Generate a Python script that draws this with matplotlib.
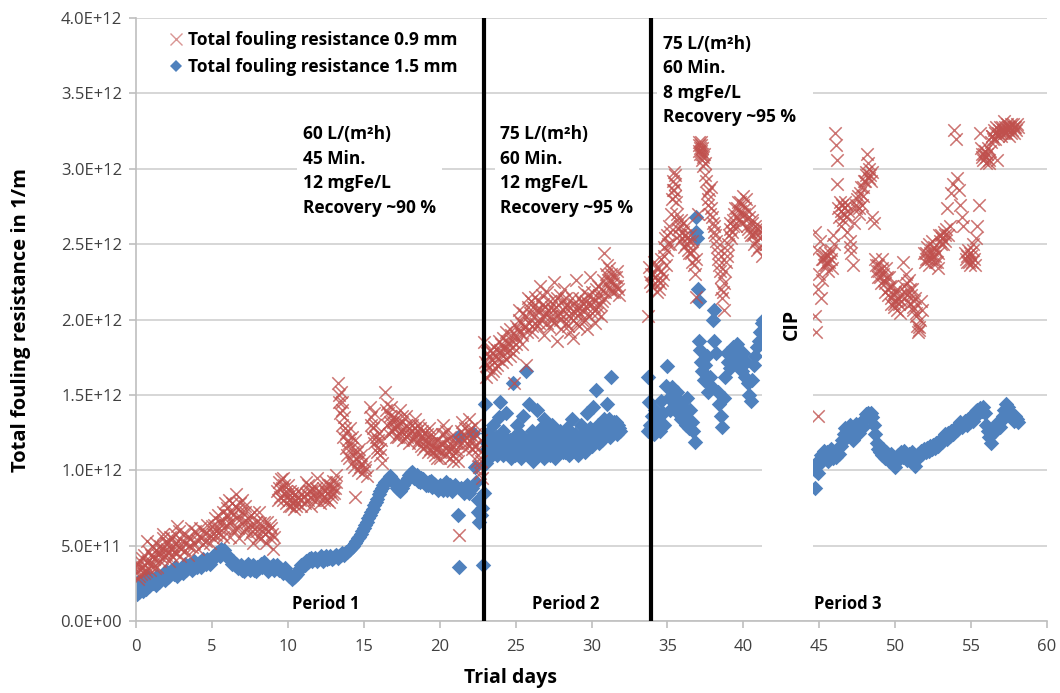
import matplotlib
matplotlib.use("Agg")
import matplotlib.pyplot as plt
from matplotlib.patches import Rectangle
from matplotlib.lines import Line2D
from matplotlib.ticker import FuncFormatter, MultipleLocator

# ---------------- data (day, total fouling resistance in 1E12 1/m) ----------------
red_p1 = [(0.0,0.33),(0.1,0.38),(0.2,0.30),(0.3,0.35),(0.4,0.42),(0.5,0.32),(0.6,0.37),(0.7,0.53),(0.8,0.40),(0.9,0.34),
          (1.0,0.44),(1.1,0.38),(1.2,0.41),(1.3,0.47),(1.4,0.36),(1.5,0.45),(1.6,0.50),(1.7,0.42),(1.8,0.58),(1.9,0.47),
          (2.0,0.44),(2.1,0.52),(2.2,0.40),(2.3,0.48),(2.4,0.55),(2.5,0.46),(2.6,0.51),(2.7,0.63),(2.8,0.49),(2.9,0.43),
          (3.0,0.53),(3.2,0.47),(3.4,0.56),(3.5,0.50),(3.6,0.62),(3.8,0.52),(4.0,0.58),(4.1,0.48),(4.3,0.55),(4.5,0.60),
          (4.6,0.53),(4.8,0.57),(5.0,0.63),(5.1,0.55),(5.2,0.68),(5.3,0.60),(5.5,0.66),(5.6,0.58),(5.7,0.72),(5.8,0.62),
          (5.9,0.70),(6.0,0.75),(6.1,0.65),(6.2,0.56),(6.3,0.78),(6.4,0.70),(6.5,0.62),(6.6,0.84),(6.7,0.74),(6.8,0.55),
          (6.9,0.68),(7.0,0.80),(7.1,0.60),(7.2,0.72),(7.3,0.66),(7.5,0.58),(7.6,0.70),(7.7,0.52),(7.8,0.64),(8.0,0.60),
          (8.1,0.72),(8.2,0.55),(8.4,0.62),(8.5,0.58),(8.6,0.66),(8.8,0.55),(8.9,0.62),(9.0,0.48),(9.1,0.56),
          (9.3,0.86),(9.4,0.92),(9.5,0.82),(9.6,0.88),(9.7,0.95),(9.8,0.84),(9.9,0.78),(10.0,0.90),(10.1,0.80),(10.2,0.76),
          (10.3,0.85),(10.4,0.74),(10.5,0.80),(10.6,0.78),(10.7,0.86),(10.9,0.76),(11.0,0.82),(11.2,0.92),(11.3,0.80),
          (11.4,0.86),(11.5,0.76),(11.6,0.88),(11.8,0.83),(11.9,0.95),(12.0,0.86),(12.1,0.78),(12.3,0.88),(12.4,0.82),
          (12.5,0.92),(12.6,0.85),(12.7,0.79),(12.8,0.90),(12.9,0.84),(13.0,0.93),(13.1,0.88),(13.2,0.97),(14.4,0.82),
          (13.3,1.58),(13.35,1.50),(13.4,1.45),(13.5,1.52),(13.55,1.40),(13.6,1.30),(13.65,1.22),(13.7,1.35),(13.8,1.15),
          (13.85,1.25),(13.9,1.10),(14.0,1.18),(14.1,1.28),(14.2,1.05),(14.3,1.12),(14.4,1.20),(14.5,1.08),(14.6,1.00),
          (14.7,1.14),(14.8,1.04),(14.9,0.98),(15.0,1.06),(15.1,1.00),(15.2,0.96),
          (15.4,1.42),(15.5,1.35),(15.6,1.28),(15.7,1.38),(15.8,1.22),(15.9,1.15),(16.0,1.25),(16.1,1.10),(16.2,1.05),
          (16.4,1.52),(16.5,1.44),(16.6,1.38),(16.7,1.32),(16.8,1.42),(16.9,1.28),(17.0,1.35),(17.1,1.22),(17.2,1.30),
          (17.3,1.25),(17.4,1.40),(17.5,1.32),(17.6,1.20),(17.7,1.28),(17.8,1.36),(17.9,1.24),(18.0,1.18),
          (18.2,1.30),(18.3,1.22),(18.4,1.34),(18.5,1.26),(18.6,1.18),(18.7,1.28),(18.8,1.22),(18.9,1.14),(19.0,1.25),
          (19.1,1.20),(19.2,1.12),(19.3,1.28),(19.4,1.18),(19.5,1.22),(19.6,1.15),(19.7,1.10),(19.8,1.20),(19.9,1.14),
          (20.0,1.08),(20.1,1.18),(20.2,1.30),(20.3,1.24),(20.4,1.15),(20.5,1.20),(20.6,1.12),(20.7,1.08),(20.8,1.16),
          (20.9,1.10),(21.0,1.22),(21.1,1.14),(21.2,1.06),(21.3,0.57),(21.4,1.26),(21.5,1.32),(21.6,1.20),(21.7,1.28),
          (21.8,1.18),(21.9,1.34),(22.0,1.24),(22.1,1.14),(22.2,1.22),(22.3,1.30),(22.4,1.16),(22.5,1.10),(22.6,1.02),
          (22.7,1.20),(22.8,0.95)]

red_p1_b = [(0.05,0.36),(0.15,0.28),(0.25,0.40),(0.35,0.31),(0.45,0.36),(0.55,0.44),(0.65,0.33),(0.75,0.39),(0.85,0.46),
            (0.95,0.37),(1.05,0.50),(1.15,0.43),(1.25,0.35),(1.35,0.52),(1.45,0.44),(1.55,0.40),(1.65,0.47),(1.75,0.55),
            (1.85,0.43),(1.95,0.52),(2.05,0.48),(2.15,0.45),(2.25,0.56),(2.35,0.43),(2.45,0.50),(2.55,0.58),(2.65,0.45),
            (2.75,0.53),(2.85,0.60),(2.95,0.48),(3.1,0.58),(3.3,0.52),(3.45,0.44),(3.55,0.55),(3.7,0.49),(3.9,0.60),
            (4.05,0.54),(4.2,0.62),(4.4,0.51),(4.55,0.58),(4.7,0.64),(4.9,0.52),(5.05,0.58),(5.15,0.64),(5.25,0.57),
            (5.4,0.70),(5.45,0.62),(5.65,0.66),(5.75,0.56),(5.85,0.78),(5.95,0.64),(6.05,0.70),(6.15,0.80),(6.25,0.66),
            (6.35,0.72),(6.45,0.60),(6.55,0.76),(6.65,0.68),(6.75,0.62),(6.85,0.78),(6.95,0.72),(7.05,0.66),(7.15,0.76),
            (7.25,0.62),(7.4,0.68),(7.55,0.64),(7.65,0.60),(7.75,0.72),(7.9,0.66),(8.05,0.56),(8.15,0.65),(8.3,0.60),
            (8.45,0.66),(8.55,0.52),(8.7,0.60),(8.85,0.64),(8.95,0.58),
            (9.35,0.80),(9.45,0.88),(9.55,0.94),(9.65,0.80),(9.75,0.90),(9.85,0.86),(9.95,0.82),(10.05,0.76),(10.15,0.86),
            (10.25,0.80),(10.35,0.78),(10.45,0.84),(10.55,0.76),(10.65,0.82),(10.8,0.80),(10.95,0.84),(11.1,0.78),
            (11.25,0.84),(11.35,0.90),(11.45,0.82),(11.55,0.86),(11.7,0.80),(11.85,0.88),(12.05,0.82),(12.2,0.85),
            (12.35,0.80),(12.45,0.86),(12.55,0.80),(12.65,0.90),(12.75,0.86),(12.85,0.82),(12.95,0.88),(13.05,0.85),
            (13.15,0.92),
            (13.45,1.38),(13.6,1.45),(13.75,1.28),(13.95,1.20),(14.05,1.08),(14.15,1.15),(14.25,1.22),(14.35,1.02),
            (14.55,1.12),(14.65,1.06),(14.75,1.02),(14.85,1.10),(15.05,1.02),(15.45,1.30),(15.55,1.22),(15.65,1.18),
            (15.75,1.30),(15.85,1.12),(15.95,1.20),(16.05,1.14),(16.15,1.20),(16.45,1.40),(16.55,1.30),(16.65,1.24),
            (16.75,1.36),(16.85,1.26),(16.95,1.32),(17.05,1.28),(17.15,1.34),(17.25,1.22),(17.35,1.30),(17.45,1.26),
            (17.55,1.36),(17.65,1.24),(17.75,1.30),(17.85,1.22),(17.95,1.28),(18.1,1.26),(18.25,1.20),(18.35,1.28),
            (18.45,1.24),(18.55,1.30),(18.65,1.20),(18.75,1.16),(18.85,1.26),(18.95,1.20),(19.05,1.16),(19.15,1.24),
            (19.25,1.18),(19.35,1.14),(19.45,1.24),(19.55,1.12),(19.65,1.18),(19.75,1.14),(19.85,1.08),(19.95,1.16),
            (20.05,1.12),(20.15,1.24),(20.25,1.18),(20.35,1.10),(20.45,1.26),(20.55,1.16),(20.65,1.22),(20.75,1.14),
            (20.85,1.06),(20.95,1.18),(21.05,1.12),(21.15,1.18),(21.45,1.18),(21.55,1.24),(21.65,1.14),(21.75,1.22),
            (21.85,1.26),(21.95,1.16),(22.05,1.28),(22.15,1.20),(22.25,1.16),(22.35,1.24),(22.45,1.06),(22.55,1.14),
            (22.65,0.98),(22.75,1.06)]

red_p2 = [(22.9,1.85),(23.0,1.72),(23.05,1.62),(23.1,1.78),(23.2,1.68),(23.3,1.80),(23.4,1.74),(23.5,1.66),(23.6,1.82),
          (23.7,1.76),(23.8,1.70),(23.9,1.86),(24.0,1.78),(24.1,1.72),(24.2,1.88),(24.3,1.80),(24.4,1.92),(24.5,1.84),
          (24.6,1.76),(24.7,1.90),(24.8,1.82),(24.9,1.58),(25.0,1.96),(25.1,1.88),(25.2,2.00),(25.3,1.92),(25.4,1.84),
          (25.5,2.04),(25.6,1.95),(25.7,1.70),(25.8,2.08),(25.9,1.98),(26.0,2.12),(26.1,1.92),(26.2,2.02),(26.3,2.15),
          (26.4,1.96),(26.5,2.06),(26.6,2.22),(26.7,2.00),(26.8,2.10),(26.9,1.90),(27.0,2.04),(27.1,2.18),(27.2,1.95),
          (27.3,2.08),(27.4,2.00),(27.5,2.25),(27.6,2.12),(27.7,1.86),(27.8,2.02),(27.9,2.16),(28.0,1.94),(28.1,2.06),
          (28.2,2.20),(28.3,1.98),(28.4,2.10),(28.5,2.02),(28.6,1.92),(28.7,2.14),(28.8,1.88),(28.9,2.04),(29.0,2.26),
          (29.1,2.08),(29.2,1.96),(29.3,2.12),(29.4,2.00),(29.5,2.18),(29.6,2.06),(29.7,1.94),(29.8,2.10),(29.9,2.28),
          (30.0,2.04),(30.1,2.14),(30.2,1.98),(30.3,2.20),(30.4,2.08),(30.5,2.16),(30.6,2.02),(30.7,2.12),(30.8,2.44),
          (30.9,2.18),(31.0,2.36),(31.1,2.26),(31.2,2.20),(31.3,2.30),(31.4,2.24),(31.5,2.18),(31.6,2.28),(31.7,2.22),
          (31.8,2.16),(33.7,2.02),(33.8,2.35),(33.85,2.25),
          (33.95,2.30),(34.0,2.22),(34.1,2.38),(34.2,2.28),(34.3,2.18),(34.4,2.34),(34.5,2.24),(34.6,2.40),(34.7,2.30),
          (34.8,2.48),(34.9,2.36),(35.0,2.56),(35.1,2.62),(35.2,2.50),(35.3,2.80),(35.4,2.92),(35.45,2.86),(35.5,2.96),
          (35.55,2.78),(35.6,2.70),(35.7,2.60),(35.8,2.52),(35.9,2.66),(36.0,2.58),(36.1,2.48),(36.2,2.62),(36.3,2.54),
          (36.4,2.44),(36.5,2.56),(36.6,2.38),(36.7,2.46),(36.8,2.30),(36.85,2.15),(36.9,2.40),(37.0,2.70),(37.05,3.12),
          (37.1,3.18),(37.15,3.10),(37.2,3.16),(37.25,3.06),(37.3,3.14),(37.35,3.02),(37.4,3.10),(37.5,2.96),(37.6,2.84),
          (37.7,2.76),(37.8,2.70),(37.9,2.88),(38.0,2.64),(38.1,2.58),(38.2,2.52),(38.3,2.44),(38.4,2.36),(38.5,2.28),
          (38.55,2.20),(38.6,2.14),(38.7,2.24),(38.75,2.06),(38.8,2.32),(38.9,2.42),(39.0,2.50),(39.1,2.60),(39.2,2.54),
          (39.3,2.66),(39.4,2.70),(39.5,2.62),(39.6,2.74),(39.7,2.66),(39.8,2.78),(39.9,2.70),(40.0,2.82),(40.1,2.74),
          (40.2,2.66),(40.3,2.60),(40.4,2.72),(40.5,2.56),(40.6,2.64),(40.7,2.50),(40.8,2.58),(40.9,2.46),(41.0,2.62),
          (41.1,2.54),(41.2,2.42),(41.3,2.60),(41.5,2.50)]

red_p2_b = [(23.15,1.70),(23.25,1.76),(23.35,1.64),(23.45,1.78),(23.55,1.72),(23.65,1.68),(23.75,1.80),(23.85,1.74),
            (23.95,1.80),(24.05,1.84),(24.15,1.76),(24.25,1.82),(24.35,1.74),(24.45,1.86),(24.55,1.80),(24.65,1.94),
            (24.75,1.86),(24.85,1.78),(24.95,1.90),(25.05,1.84),(25.15,1.94),(25.25,2.06),(25.35,1.98),(25.45,1.90),
            (25.55,1.96),(25.65,2.02),(25.75,1.92),(25.85,2.14),(25.95,2.04),(26.05,1.96),(26.15,2.08),(26.25,1.98),
            (26.35,2.06),(26.45,2.12),(26.55,1.98),(26.65,2.06),(26.75,2.16),(26.85,2.02),(26.95,2.08),(27.05,1.98),
            (27.15,2.06),(27.25,2.12),(27.35,2.02),(27.45,2.06),(27.55,1.98),(27.65,2.08),(27.75,2.14),(27.85,2.04),
            (27.95,2.00),(28.05,2.12),(28.15,2.02),(28.25,2.08),(28.35,2.14),(28.45,1.96),(28.55,2.08),(28.65,2.04),
            (28.75,2.00),(28.85,2.10),(28.95,1.98),(29.05,2.06),(29.15,2.14),(29.25,2.04),(29.35,2.06),(29.45,2.10),
            (29.55,2.00),(29.65,2.12),(29.75,2.16),(29.85,2.02),(29.95,2.10),(30.05,2.18),(30.15,2.08),(30.25,2.12),
            (30.35,2.04),(30.45,2.22),(30.55,2.10),(30.65,2.20),(30.75,2.26),(30.85,2.14),(30.95,2.30),(31.05,2.22),
            (31.15,2.34),(31.25,2.26),(31.35,2.18),(31.45,2.28),(31.55,2.22),(31.65,2.32),(31.75,2.20),
            (34.05,2.30),(34.15,2.24),(34.25,2.34),(34.35,2.26),(34.45,2.20),(34.55,2.32),(34.65,2.26),(34.75,2.42),
            (34.85,2.54),(34.95,2.46),(35.05,2.50),(35.15,2.58),(35.25,2.70),(35.35,2.86),(35.42,2.98),(35.48,2.82),
            (35.52,2.90),(35.65,2.66),(35.75,2.56),(35.85,2.62),(35.95,2.54),(36.05,2.64),(36.15,2.56),(36.25,2.50),
            (36.35,2.46),(36.45,2.52),(36.55,2.44),(36.65,2.52),(36.75,2.36),(37.08,3.16),(37.12,3.14),(37.18,3.12),
            (37.22,3.18),(37.28,3.10),(37.32,3.08),(37.45,3.04),(37.55,2.92),(37.65,2.80),(37.75,2.86),(37.85,2.74),
            (37.95,2.68),(38.05,2.62),(38.15,2.56),(38.25,2.48),(38.35,2.40),(38.45,2.32),(38.65,2.18),(38.85,2.38),
            (38.95,2.46),(39.05,2.56),(39.15,2.64),(39.25,2.58),(39.35,2.62),(39.45,2.74),(39.55,2.68),(39.65,2.78),
            (39.75,2.72),(39.85,2.64),(39.95,2.76),(40.05,2.70),(40.15,2.80),(40.25,2.62),(40.35,2.68),(40.45,2.58),
            (40.55,2.66),(40.65,2.56),(40.75,2.62),(40.85,2.52),(40.95,2.58),(41.05,2.48),(41.15,2.58)]

red_p3 = [(44.7,2.58),(44.75,2.02),(44.8,1.92),(44.85,2.46),(44.9,2.20),(44.95,1.36),(45.0,2.30),(45.05,2.52),(45.1,2.14),
          (45.15,2.40),(45.2,2.26),(45.3,2.36),(45.4,2.42),(45.5,2.38),(45.6,2.32),(45.7,2.44),(45.8,2.40),(45.9,2.56),
          (46.0,2.50),(46.05,3.24),(46.1,3.16),(46.15,3.06),(46.2,2.90),(46.3,2.68),(46.4,2.62),(46.5,2.76),(46.6,2.70),
          (46.7,2.78),(46.8,2.58),(46.9,2.72),(47.0,2.52),(47.1,2.44),(47.2,2.36),(47.3,2.64),(47.4,2.74),(47.5,2.80),
          (47.6,2.70),(47.7,2.84),(47.8,2.76),(47.9,2.88),(48.0,2.92),(48.1,2.96),(48.15,3.10),(48.2,3.04),(48.25,2.94),
          (48.3,3.00),(48.4,2.92),(48.5,2.68),(48.6,2.64),(48.7,2.40),(48.8,2.32),(48.9,2.36),(49.0,2.28),(49.1,2.40),
          (49.2,2.30),(49.3,2.24),(49.4,2.34),(49.5,2.20),(49.6,2.28),(49.7,2.14),(49.8,2.22),(49.9,2.10),(50.0,2.18),
          (50.1,2.06),(50.2,2.14),(50.3,2.04),(50.4,2.12),(50.5,2.38),(50.6,2.22),(50.7,2.30),(50.8,2.16),(50.9,2.26),
          (51.0,2.10),(51.1,2.20),(51.2,2.06),(51.3,2.14),(51.4,2.02),(51.5,1.92),(51.6,1.95),(51.7,2.12),(51.8,2.06),
          (51.9,2.44),(52.0,2.40),(52.1,2.48),(52.2,2.36),(52.3,2.44),(52.4,2.52),(52.5,2.42),(52.6,2.38),(52.7,2.46),
          (52.8,2.34),(52.9,2.56),(53.0,2.50),(53.1,2.54),(53.2,2.58),(53.3,2.52),(53.4,2.74),(53.5,2.56),(53.6,2.62),
          (53.7,2.84),(53.8,2.90),(53.9,3.26),(54.0,3.20),(54.1,2.94),(54.2,2.86),(54.3,2.76),(54.4,2.68),(54.5,2.62),
          (54.6,2.44),(54.7,2.38),(54.8,2.46),(54.9,2.36),(55.0,2.42),(55.1,2.50),(55.2,2.40),(55.3,2.54),(55.4,2.62),
          (55.5,2.76),(55.6,3.24),(55.7,3.10),(55.8,3.06),(55.9,3.12),(56.0,3.08),(56.1,3.14),(56.2,3.04),(56.3,3.18),
          (56.4,3.22),(56.5,3.26),(56.6,3.20),(56.7,3.06),(56.8,3.24),(56.9,3.28),(57.0,3.22),(57.1,3.26),(57.2,3.32),
          (57.3,3.24),(57.4,3.28),(57.5,3.22),(57.6,3.30),(57.7,3.26),(57.8,3.24),(57.9,3.28)]

red_p3_b = [(45.25,2.40),(45.35,2.44),(45.45,2.36),(45.55,2.42),(45.65,2.38),(45.75,2.46),(45.85,2.34),(46.25,2.74),
            (46.35,2.78),(46.45,2.72),(46.55,2.66),(46.65,2.74),(46.75,2.68),(46.85,2.76),(47.05,2.48),(47.45,2.76),
            (47.55,2.82),(47.65,2.74),(47.75,2.88),(47.85,2.82),(47.95,2.92),(48.05,2.98),(48.35,2.96),(48.45,2.98),
            (48.75,2.36),(48.85,2.28),(48.95,2.32),(49.05,2.24),(49.15,2.34),(49.25,2.26),(49.35,2.18),(49.45,2.28),
            (49.55,2.16),(49.65,2.22),(49.75,2.10),(49.85,2.16),(49.95,2.08),(50.05,2.12),(50.15,2.20),(50.25,2.10),
            (50.35,2.16),(50.65,2.18),(50.75,2.24),(50.85,2.12),(50.95,2.20),(51.05,2.16),(51.15,2.08),(51.25,2.12),
            (51.35,2.04),(51.45,1.96),(51.55,1.93),(51.65,2.00),(51.95,2.38),(52.05,2.44),(52.15,2.40),(52.25,2.50),
            (52.35,2.40),(52.45,2.46),(52.55,2.48),(52.65,2.42),(52.75,2.38),(52.85,2.44),(52.95,2.52),(53.05,2.56),
            (53.15,2.50),(53.25,2.56),(53.35,2.60),(54.65,2.40),(54.75,2.42),(54.85,2.38),(54.95,2.44),(55.05,2.38),
            (55.15,2.46),(55.25,2.36),(55.65,3.14),(55.75,3.08),(55.85,3.10),(55.95,3.04),(56.05,3.10),(56.15,3.06),
            (56.25,3.12),(56.35,3.22),(56.45,3.20),(56.55,3.24),(56.65,3.28),(56.75,3.22),(56.85,3.26),(56.95,3.24),
            (57.05,3.28),(57.15,3.24),(57.25,3.28),(57.35,3.30),(57.45,3.26),(57.55,3.28),(57.65,3.24),(57.75,3.30),
            (57.85,3.28),(57.95,3.26),(58.05,3.30),(58.1,3.28)]

blue_p1 = [(0.0,0.22),(0.1,0.26),(0.2,0.19),(0.3,0.24),(0.4,0.21),(0.5,0.27),(0.6,0.23),(0.7,0.26),(0.8,0.29),(0.9,0.25),
           (1.0,0.28),(1.2,0.27),(1.4,0.30),(1.6,0.28),(1.8,0.31),(2.0,0.33),(2.2,0.30),(2.4,0.34),(2.6,0.36),(2.8,0.33),
           (3.0,0.35),(3.2,0.38),(3.4,0.35),(3.6,0.37),(3.8,0.40),(4.0,0.36),(4.2,0.39),(4.4,0.41),(4.6,0.38),(4.8,0.40),
           (5.0,0.42),(5.2,0.44),(5.4,0.46),(5.6,0.48),(5.8,0.47),(6.0,0.44),(6.2,0.41),(6.4,0.40),(6.6,0.38),(6.8,0.36),
           (7.0,0.34),(7.2,0.36),(7.4,0.38),(7.6,0.36),(7.8,0.34),(8.0,0.36),(8.2,0.38),(8.4,0.39),(8.6,0.36),(8.8,0.35),
           (9.0,0.37),(9.2,0.36),(9.4,0.34),(9.6,0.33),(9.8,0.35),(10.0,0.32),(10.2,0.30),(10.4,0.29),(10.6,0.31),
           (10.8,0.35),(11.0,0.38),(11.2,0.40),(11.4,0.41),(11.6,0.40),(11.8,0.42),(12.0,0.41),(12.2,0.43),(12.4,0.42),
           (12.6,0.41),(12.8,0.43),(13.0,0.42),(13.2,0.44),(13.4,0.43),(13.6,0.45),(13.8,0.46),(14.0,0.47),(14.2,0.49),
           (14.4,0.52),(14.6,0.55),(14.8,0.58),(15.0,0.62),(15.2,0.66),(15.4,0.70),(15.6,0.74),(15.8,0.79),(16.0,0.84),
           (16.2,0.88),(16.4,0.92),(16.6,0.94),(16.8,0.95),(17.0,0.93),(17.2,0.88),(17.4,0.86),(17.6,0.90),(17.8,0.93),
           (18.0,0.97),(18.2,0.99),(18.4,0.96),(18.6,0.93),(18.8,0.95),(19.0,0.92),(19.2,0.90),(19.4,0.93),(19.6,0.91),
           (19.8,0.88),(20.0,0.90),(20.2,0.87),(20.4,0.92),(20.6,0.89),(20.8,0.86),(21.0,0.90),(21.2,0.70),(21.25,0.36),
           (21.3,1.23),(21.4,0.88),(21.6,0.85),(21.8,0.90),(22.0,0.87),(22.2,1.25),(22.3,1.02),(22.4,0.92),(22.5,0.80),
           (22.55,0.72),(22.6,0.66),(22.7,0.70),(22.8,0.75),(22.85,0.37),(22.9,0.85)]

blue_p1_b = [(0.05,0.18),(0.25,0.23),(0.45,0.20),(0.65,0.21),(0.85,0.23),(1.1,0.25),(1.3,0.24),(1.5,0.26),(1.7,0.30),
             (1.9,0.27),(2.1,0.29),(2.3,0.33),(2.5,0.31),(2.7,0.30),(2.9,0.34),(3.1,0.32),(3.3,0.34),(3.5,0.37),(3.7,0.34),
             (3.9,0.36),(4.1,0.38),(4.3,0.36),(4.5,0.39),(4.7,0.41),(4.9,0.38),(5.1,0.41),(5.3,0.45),(5.5,0.43),(5.7,0.45),
             (5.9,0.43),(6.1,0.42),(6.3,0.38),(6.5,0.37),(6.7,0.35),(6.9,0.37),(7.1,0.33),(7.3,0.35),(7.5,0.34),(7.7,0.37),
             (7.9,0.33),(8.1,0.35),(8.3,0.36),(8.5,0.37),(8.7,0.33),(8.9,0.36),(9.1,0.34),(9.3,0.37),(9.5,0.35),(9.7,0.32),
             (9.9,0.33),(10.1,0.30),(10.3,0.28),(10.5,0.30),(10.7,0.33),(10.9,0.37),(11.1,0.37),(11.3,0.39),(11.5,0.42),
             (11.7,0.41),(11.9,0.40),(12.1,0.42),(12.3,0.40),(12.5,0.43),(12.7,0.42),(12.9,0.41),(13.1,0.43),(13.3,0.42),
             (13.5,0.44),(13.7,0.44),(13.9,0.46),(14.1,0.48),(14.3,0.50),(14.5,0.53),(14.7,0.56),(14.9,0.60),(15.1,0.64),
             (15.3,0.68),(15.5,0.72),(15.7,0.77),(15.9,0.81),(16.1,0.86),(16.3,0.90),(16.5,0.93),(16.7,0.96),(16.9,0.92),
             (17.1,0.90),(17.3,0.87),(17.5,0.88),(17.7,0.92),(17.9,0.95),(18.1,0.98),(18.3,0.95),(18.5,0.97),(18.7,0.92),
             (18.9,0.94),(19.1,0.90),(19.3,0.92),(19.5,0.89),(19.7,0.90),(19.9,0.87),(20.1,0.89),(20.3,0.90),(20.5,0.87),
             (20.7,0.90),(20.9,0.88),(21.5,0.87),(21.7,0.88),(21.9,0.85),(22.1,0.88)]

blue_p2 = [(23.0,1.44),(23.05,1.05),(23.1,1.18),(23.2,1.25),(23.3,1.12),(23.4,1.20),(23.5,1.30),(23.6,1.15),(23.7,1.22),
           (23.8,1.10),(23.9,1.35),(24.0,1.45),(24.1,1.18),(24.2,1.26),(24.3,1.12),(24.4,1.38),(24.5,1.20),(24.6,1.14),
           (24.7,1.08),(24.8,1.58),(24.9,1.22),(25.0,1.16),(25.1,1.30),(25.2,1.10),(25.3,1.24),(25.4,1.18),(25.5,1.36),
           (25.6,1.12),(25.7,1.66),(25.8,1.20),(25.9,1.44),(26.0,1.14),(26.1,1.26),(26.2,1.18),(26.3,1.08),(26.4,1.40),
           (26.5,1.22),(26.6,1.12),(26.7,1.28),(26.8,1.16),(26.9,1.34),(27.0,1.20),(27.1,1.10),(27.2,1.24),(27.3,1.15),
           (27.4,1.30),(27.5,1.18),(27.6,1.08),(27.7,1.22),(27.8,1.14),(27.9,1.26),(28.0,1.19),(28.1,1.12),(28.2,1.24),
           (28.3,1.16),(28.4,1.28),(28.5,1.10),(28.6,1.20),(28.7,1.34),(28.8,1.14),(28.9,1.24),(29.0,1.17),(29.1,1.10),
           (29.2,1.22),(29.3,1.30),(29.4,1.16),(29.5,1.24),(29.6,1.12),(29.7,1.38),(29.8,1.20),(29.9,1.28),(30.0,1.16),
           (30.1,1.42),(30.2,1.22),(30.3,1.53),(30.4,1.30),(30.5,1.18),(30.6,1.26),(30.7,1.20),(30.8,1.34),(30.9,1.24),
           (31.0,1.44),(31.1,1.28),(31.2,1.22),(31.3,1.62),(31.4,1.30),(31.5,1.26),(31.6,1.32),(31.7,1.24),(31.8,1.28),
           (31.9,1.26),(33.7,1.26),(33.75,1.62),(33.8,1.45),(33.85,1.30),
           (33.95,1.28),(34.0,1.36),(34.1,1.24),(34.2,1.40),(34.3,1.30),(34.4,1.33),(34.5,1.26),(34.6,1.46),(34.7,1.38),
           (34.8,1.30),(34.9,1.56),(35.0,1.69),(35.1,1.48),(35.2,1.40),(35.3,1.55),(35.4,1.50),(35.5,1.44),(35.6,1.52),
           (35.7,1.38),(35.8,1.46),(35.9,1.34),(36.0,1.42),(36.1,1.36),(36.2,1.30),(36.3,1.48),(36.4,1.28),(36.5,1.40),
           (36.6,1.32),(36.7,1.26),(36.8,1.19),(36.85,2.68),(36.9,2.58),(36.95,2.54),(37.0,2.20),(37.05,2.12),(37.1,1.86),
           (37.15,1.80),(37.2,1.72),(37.3,1.66),(37.4,1.60),(37.5,1.70),(37.6,1.76),(37.7,1.52),(37.8,1.62),(37.9,1.56),
           (38.0,2.00),(38.05,2.06),(38.1,1.86),(38.2,1.78),(38.3,1.52),(38.4,1.44),(38.5,1.36),(38.6,1.29),(38.7,1.48),
           (38.8,1.62),(38.9,1.78),(39.0,1.72),(39.1,1.68),(39.2,1.76),(39.3,1.82),(39.4,1.74),(39.5,1.80),(39.6,1.84),
           (39.7,1.70),(39.8,1.76),(39.9,1.66),(40.0,1.78),(40.1,1.62),(40.2,1.72),(40.3,1.58),(40.4,1.50),(40.5,1.46),
           (40.6,1.60),(40.7,1.70),(40.8,1.76),(40.9,1.82),(41.0,1.86),(41.1,1.92),(41.2,1.98),(41.3,2.00)]

blue_p2_b = [(23.15,1.14),(23.25,1.20),(23.35,1.16),(23.45,1.10),(23.55,1.18),(23.65,1.12),(23.75,1.16),(23.85,1.20),
             (23.95,1.12),(24.05,1.16),(24.15,1.10),(24.25,1.15),(24.35,1.20),(24.45,1.12),(24.55,1.16),(24.65,1.20),
             (24.75,1.12),(24.85,1.17),(24.95,1.10),(25.05,1.14),(25.15,1.20),(25.25,1.13),(25.35,1.08),(25.45,1.15),
             (25.55,1.19),(25.65,1.12),(25.75,1.16),(25.85,1.10),(25.95,1.18),(26.05,1.12),(26.15,1.06),(26.25,1.14),
             (26.35,1.18),(26.45,1.10),(26.55,1.16),(26.65,1.20),(26.75,1.12),(26.85,1.08),(26.95,1.16),(27.05,1.12),
             (27.15,1.18),(27.25,1.10),(27.35,1.14),(27.45,1.20),(27.55,1.12),(27.65,1.16),(27.75,1.10),(27.85,1.18),
             (27.95,1.14),(28.05,1.16),(28.15,1.20),(28.25,1.12),(28.35,1.18),(28.45,1.14),(28.55,1.16),(28.65,1.12),
             (28.75,1.18),(28.85,1.20),(28.95,1.14),(29.05,1.20),(29.15,1.16),(29.25,1.14),(29.35,1.20),(29.45,1.18),
             (29.55,1.22),(29.65,1.16),(29.75,1.20),(29.85,1.24),(29.95,1.18),(30.05,1.22),(30.15,1.26),(30.25,1.20),
             (30.35,1.24),(30.45,1.28),(30.55,1.22),(30.65,1.30),(30.75,1.26),(30.85,1.22),(30.95,1.30),(31.05,1.26),
             (31.15,1.34),(31.25,1.28),(31.35,1.24),(31.45,1.32),(31.55,1.28),(31.65,1.26),(31.75,1.30)]

blue_p3 = [(44.7,1.00),(44.75,0.88),(44.8,1.05),(44.9,0.98),(45.0,1.04),(45.1,1.10),(45.2,1.06),(45.3,1.13),(45.4,1.08),
           (45.5,1.12),(45.6,1.06),(45.7,1.10),(45.8,1.14),(45.9,1.08),(46.0,1.12),(46.1,1.09),(46.2,1.14),(46.3,1.11),
           (46.4,1.16),(46.5,1.20),(46.6,1.24),(46.7,1.28),(46.8,1.22),(46.9,1.26),(47.0,1.30),(47.1,1.24),(47.2,1.20),
           (47.3,1.27),(47.4,1.31),(47.5,1.28),(47.6,1.25),(47.7,1.30),(47.8,1.33),(47.9,1.29),(48.0,1.34),(48.1,1.37),
           (48.2,1.38),(48.3,1.36),(48.4,1.38),(48.5,1.35),(48.6,1.30),(48.7,1.24),(48.8,1.18),(48.9,1.14),(49.0,1.12),
           (49.1,1.10),(49.2,1.14),(49.3,1.08),(49.4,1.12),(49.5,1.10),(49.6,1.06),(49.7,1.11),(49.8,1.08),(49.9,1.05),
           (50.0,1.02),(50.1,1.06),(50.2,1.10),(50.3,1.08),(50.4,1.12),(50.5,1.09),(50.6,1.13),(50.7,1.10),(50.8,1.07),
           (50.9,1.11),(51.0,1.08),(51.1,1.12),(51.2,1.06),(51.3,1.03),(51.4,1.08),(51.5,1.11),(51.6,1.09),(51.7,1.13),
           (51.8,1.11),(51.9,1.14),(52.0,1.12),(52.1,1.15),(52.2,1.13),(52.3,1.16),(52.4,1.14),(52.5,1.17),(52.6,1.15),
           (52.7,1.18),(52.8,1.16),(52.9,1.19),(53.0,1.21),(53.1,1.19),(53.2,1.22),(53.3,1.24),(53.4,1.21),(53.5,1.25),
           (53.6,1.23),(53.7,1.26),(53.8,1.24),(53.9,1.27),(54.0,1.29),(54.1,1.27),(54.2,1.30),(54.3,1.32),(54.4,1.29),
           (54.5,1.31),(54.6,1.33),(54.7,1.30),(54.8,1.34),(54.9,1.32),(55.0,1.35),(55.1,1.33),(55.2,1.37),(55.3,1.39),
           (55.4,1.40),(55.5,1.38),(55.6,1.41),(55.7,1.39),(55.8,1.42),(55.9,1.38),(56.0,1.30),(56.1,1.26),(56.2,1.22),
           (56.3,1.18),(56.4,1.24),(56.5,1.28),(56.6,1.26),(56.7,1.30),(56.8,1.32),(56.9,1.29),(57.0,1.33),(57.1,1.36),
           (57.2,1.40),(57.3,1.44),(57.4,1.42),(57.5,1.38),(57.6,1.35),(57.7,1.37),(57.8,1.33),(57.9,1.36),(58.0,1.34),
           (58.1,1.32)]

period_bounds = [22.9, 33.9]
series_labels = ["Total fouling resistance 0.9 mm", "Total fouling resistance 1.5 mm"]
x_ticks = list(range(0, 61, 5))
annot_1 = "60 L/(m\u00b2h)\n45 Min.\n12 mgFe/L\nRecovery ~90 %"
annot_2 = "75 L/(m\u00b2h)\n60 Min.\n12 mgFe/L\nRecovery ~95 %"
annot_3 = "75 L/(m\u00b2h)\n60 Min.\n8 mgFe/L\nRecovery ~95 %"
period_names = ["Period 1", "Period 2", "Period 3"]

RED = "#C0504D"
BLUE = "#4F81BD"
SCALE = 1e12

def unzip(pairs):
    return [p[0] for p in pairs], [p[1] * SCALE for p in pairs]

plt.rcParams['font.family'] = ['Open Sans', 'DejaVu Sans']

fig = plt.figure(figsize=(10.6, 6.93), dpi=100)
ax = fig.add_axes([136/1060, 1 - 621/693, (1047-136)/1060, (621-18)/693])

for pairs in (blue_p1, blue_p1_b, blue_p2, blue_p2_b, blue_p3):
    x, y = unzip(pairs)
    ax.scatter(x, y, marker='D', s=62, color=BLUE, linewidths=0, zorder=2)
for pairs in (red_p1, red_p1_b, red_p2, red_p2_b, red_p3, red_p3_b):
    x, y = unzip(pairs)
    ax.scatter(x, y, marker='x', s=80, color=RED, linewidths=1.1, alpha=0.8, zorder=3)

ax.set_xlim(0, 60)
ax.set_ylim(0, 4e12)
ax.set_xticks(x_ticks)
ax.yaxis.set_major_locator(MultipleLocator(0.5e12))
ax.yaxis.set_major_formatter(FuncFormatter(lambda v, p: f"{v:.1E}"))
ax.set_axisbelow(True)
ax.grid(axis='y', color='#D0D0D0', linewidth=1.2)
ax.grid(axis='x', visible=False)
for s in ('top', 'right'):
    ax.spines[s].set_visible(False)
for s in ('left', 'bottom'):
    ax.spines[s].set_color('#BFBFBF')
    ax.spines[s].set_linewidth(1.2)
ax.tick_params(axis='both', which='major', length=5, width=1.2, color='#BFBFBF',
               labelsize=12, labelcolor='#404040', pad=5)
ax.tick_params(axis='x', pad=8)

ax.set_xlabel("Trial days", fontsize=14, fontweight='bold')
ax.xaxis.set_label_coords((510 - 136) / 911, -0.078)
ax.set_ylabel("Total fouling resistance in 1/m", fontsize=14.5, fontweight='bold')
ax.yaxis.set_label_coords(-(136 - 31) / 911, 0.5)

# white box covering CIP gap
ax.add_patch(Rectangle((41.25, 0.25e12), 44.6 - 41.25, 3.5e12, facecolor='white',
                       edgecolor='none', zorder=4))
ax.text(43.2, 1.97e12, "CIP", rotation=90, ha='center', va='center', fontsize=14,
        fontweight='bold', zorder=5)

# period boundary lines
for b in period_bounds:
    ax.axvline(b, color='black', linewidth=3, zorder=6)

box = dict(facecolor='white', edgecolor='none', pad=4)
ax.text(11.0, 3.29e12, annot_1, ha='left', va='top', fontsize=12.5, fontweight='bold',
        linespacing=1.47, bbox=box, zorder=5)
ax.text(24.0, 3.29e12, annot_2, ha='left', va='top', fontsize=12.5, fontweight='bold',
        linespacing=1.47, bbox=box, zorder=5)
ax.text(34.7, 3.89e12, annot_3, ha='left', va='top', fontsize=12.5, fontweight='bold',
        linespacing=1.47, bbox=box, zorder=5)

for name, xp in zip(period_names, [12.5, 28.3, 46.9]):
    ax.text(xp, 0.11e12, name, ha='center', va='center', fontsize=12, fontweight='bold', zorder=5)

handles = [Line2D([], [], marker='x', linestyle='none', color=RED, alpha=0.6, markersize=8, markeredgewidth=1),
           Line2D([], [], marker='D', linestyle='none', color=BLUE, markersize=6, markeredgewidth=0)]
leg = ax.legend(handles, series_labels, loc='upper left', bbox_to_anchor=(0.025, 0.99),
                frameon=False, handletextpad=0.1, handlelength=1.2, labelspacing=0.5,
                prop={'size': 12.5, 'weight': 'bold'}, borderaxespad=0)
leg.set_zorder(7)

fig.savefig("out.png", dpi=100, facecolor='white')
